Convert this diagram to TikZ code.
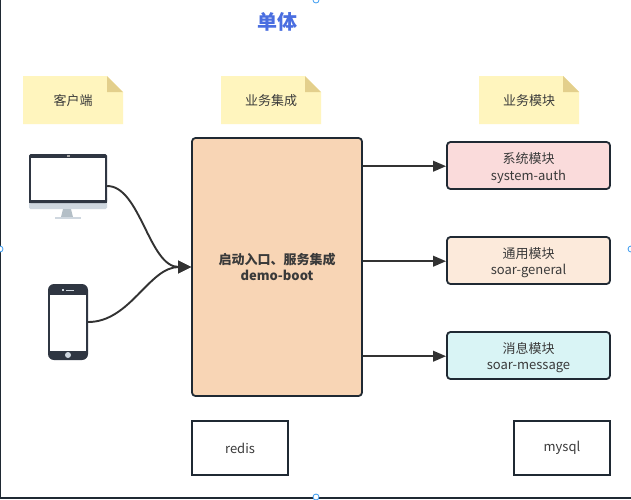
\documentclass[tikz,border=0pt]{standalone}
\usepackage{fontspec}
\setmainfont{Open Sans}
\newfontfamily\cjk{Noto Sans CJK SC}
\usetikzlibrary{arrows.meta}
\definecolor{ink}{HTML}{1F2933}
\definecolor{txt}{HTML}{3A3A3A}
\definecolor{conn}{HTML}{323232}
\definecolor{note}{HTML}{FFF5BE}
\definecolor{notefold}{HTML}{E3CF8C}
\definecolor{mainfill}{HTML}{F8D5B5}
\definecolor{pinkfill}{HTML}{FADBDB}
\definecolor{sandfill}{HTML}{FCEADB}
\definecolor{cyanfill}{HTML}{D9F4F5}
\definecolor{titleblue}{HTML}{4A6EE0}
\definecolor{handle}{HTML}{3B9BF0}
\definecolor{devdark}{HTML}{2F3642}
\definecolor{devchin}{HTML}{CFD7DF}
\definecolor{devstand}{HTML}{B4BFC7}
\tikzset{
  lbl/.style={font=\fontsize{13}{16}\selectfont\cjk, text=txt, align=center},
  sticky/.style={lbl, inner sep=0pt, minimum width=100pt, minimum height=48pt},
  modbox/.style={lbl, draw=ink, line width=1.8pt, rounded corners=3.5pt, minimum width=163pt, minimum height=47pt, inner sep=0pt},
  plainbox/.style={lbl, draw=ink, line width=1.8pt, fill=white, minimum width=96pt, minimum height=54pt, inner sep=0pt},
  link/.style={draw=conn, line width=1.9pt, -{Triangle[length=13pt,width=12.5pt]}},
  straightlink/.style={draw=conn, line width=2.1pt, -{Triangle[length=13pt,width=10.5pt]}},
  frameln/.style={draw=ink, line width=2.1pt},
  hdl/.style={circle, draw=handle, fill=white, line width=0.8pt, minimum size=6pt, inner sep=0pt}
}
\newcommand{\stickynote}[4]{%
  \fill[note] (#2,#3) -- ++(84,0) -- ++(16,16) -- ++(0,32) -- ++(-100,0) -- cycle;
  \fill[notefold] (#2+84,#3) -- ++(16,16) -- ++(-16,0) -- cycle;
  \node[sticky, anchor=north west] (#1) at (#2,#3) {#4};
}
\newcommand{\firstline}{\rule{0pt}{15.5pt}}
\begin{document}
\begin{tikzpicture}[x=1pt,y=-1pt]
\useasboundingbox (0,0) rectangle (631,499);
\fill[white] (0,0) rectangle (631,499);
% frame
\coordinate (fa) at (0,-2);
\coordinate (fb) at (0,497.6);
\coordinate (fc) at (631,497.6);
\draw[frameln] (fa) -- (fb) -- (fc);
\node[hdl] (h1) at (316,0) {};
\node[hdl] (h2) at (0,249) {};
\node[hdl] (h3) at (631,249) {};
\node[hdl] (h4) at (316,497) {};
% title
\node[font=\fontsize{20}{24}\selectfont\cjk\bfseries, text=titleblue, inner sep=0pt] (title) at (277,22) {单体};
% stickies
\stickynote{n1}{23}{76}{客户端}
\stickynote{n2}{221}{76}{业务集成}
\stickynote{n3}{479}{76}{业务模块}
% main
\node[lbl, draw=ink, fill=mainfill, line width=1.8pt, rounded corners=3.5pt, minimum width=170pt, minimum height=258pt, inner sep=0pt, font=\fontsize{13}{16}\selectfont\cjk\bfseries] (main) at (277,267) {启动入口、服务集成\\demo-boot};
% modules
\node[modbox, fill=pinkfill] (m1) at (528.5,165.5) {\firstline 系统模块\\[0.6pt]system-auth};
\node[modbox, fill=sandfill] (m2) at (528.5,260.5) {\firstline 通用模块\\[0.6pt]soar-general};
\node[modbox, fill=cyanfill] (m3) at (528.5,355.5) {\firstline 消息模块\\[0.6pt]soar-message};
\node[plainbox] (redis) at (240,448) {redis};
\node[plainbox] (mysql) at (562,448) {mysql};
% monitor
\fill[devchin, rounded corners=1.5pt] (29,196) rectangle (107,209);
\fill[devstand] (63,209) -- (71,209) -- (73,217) -- (61,217) -- cycle;
\fill[devchin] (55,216.5) rectangle (81,219);
\fill[devdark, rounded corners=1.5pt] (29,154) rectangle (107,203);
\fill[devdark] (29,198) rectangle (107,203);
\node[fill=white, minimum width=74pt, minimum height=42pt, inner sep=0pt] (monscreen) at (68,179) {};
\fill[gray!70] (66.5,155.4) rectangle (69.5,156.6);
\node[inner sep=0pt, minimum width=78pt, minimum height=64pt] (monitor) at (68,186) {};
% phone
\fill[devdark, rounded corners=6pt] (48,284) rectangle (88,360);
\node[fill=white, minimum width=36pt, minimum height=56pt, inner sep=0pt] (phscreen) at (68,323) {};
\fill[devchin] (68,355) circle (3pt);
\fill[devchin] (62,289.3) rectangle (64,290.7);
\fill[devchin] (66,289.5) rectangle (74,290.5);
\node[inner sep=0pt, minimum width=40pt, minimum height=76pt] (phone) at (68,322) {};
% connectors
\draw[link] (monitor.east) .. controls +(33,0) and +(-42,0) .. (main.west);
\draw[link] (phone.east) .. controls +(42,0) and +(-42,0) .. (main.west);
\coordinate (e1) at ([yshift=-0.7pt]m1.west);
\coordinate (e2) at ([yshift=-0.7pt]m2.west);
\coordinate (e3) at ([yshift=-0.7pt]m3.west);
\coordinate (s1) at (main.east |- e1);
\coordinate (s2) at (main.east |- e2);
\coordinate (s3) at (main.east |- e3);
\draw[straightlink] (s1) -- (e1);
\draw[straightlink] (s2) -- (e2);
\draw[straightlink] (s3) -- (e3);
\end{tikzpicture}
\end{document}
